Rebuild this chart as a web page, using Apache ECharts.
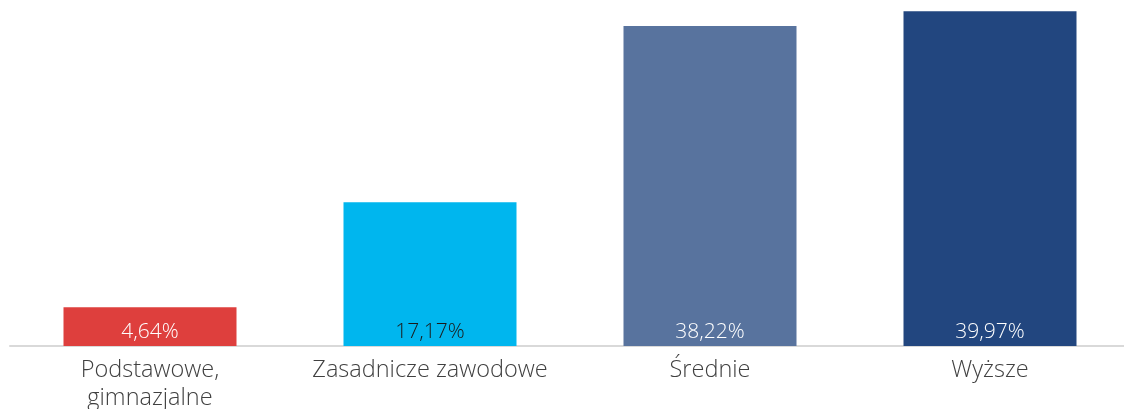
<!DOCTYPE html>
<html><head><meta charset="utf-8">
<script src="https://cdn.jsdelivr.net/npm/echarts@6/dist/echarts.min.js"></script>
<style>html,body{margin:0;padding:0;background:#fff}#c{width:1124px;height:409px}</style>
</head><body><div id="c"></div>
<script>
const categories = ['Podstawowe,\ngimnazjalne', 'Zasadnicze zawodowe', 'Średnie', 'Wyższe'];
const values = [4.64, 17.17, 38.22, 39.97];
const barColors = ['#DE3F3D', '#00B6EE', '#58739E', '#22467F'];
const labelColors = ['#ffffff', '#1a1a1a', '#ffffff', '#ffffff'];

const chart = echarts.init(document.getElementById('c'));
chart.setOption({
  animation: false,
  grid: { left: 10, right: -6, top: 11, bottom: 63, containLabel: false, outerBoundsMode: 'none' },
  xAxis: {
    type: 'category', data: categories,
    axisLine: { lineStyle: { color: '#D9D9D9', width: 2 } },
    axisTick: { show: false },
    axisLabel: { interval: 0, hideOverlap: false, color: '#404040', fontFamily: 'Open Sans', fontWeight: 300, fontSize: 23.5, lineHeight: 28, margin: 10 }
  },
  yAxis: { type: 'value', min: 0, max: 40, show: false, splitLine: { show: false } },
  series: [{
    type: 'bar', barWidth: 173,
    data: values.map((v, i) => ({
      value: v,
      itemStyle: { color: barColors[i] },
      label: { color: labelColors[i] }
    })),
    label: {
      show: true, position: 'insideBottom', distance: 3,
      fontFamily: 'Open Sans', fontWeight: 300, fontSize: 21,
      formatter: p => p.value.toFixed(2).replace('.', ',') + '%'
    }
  }]
});
</script></body></html>
